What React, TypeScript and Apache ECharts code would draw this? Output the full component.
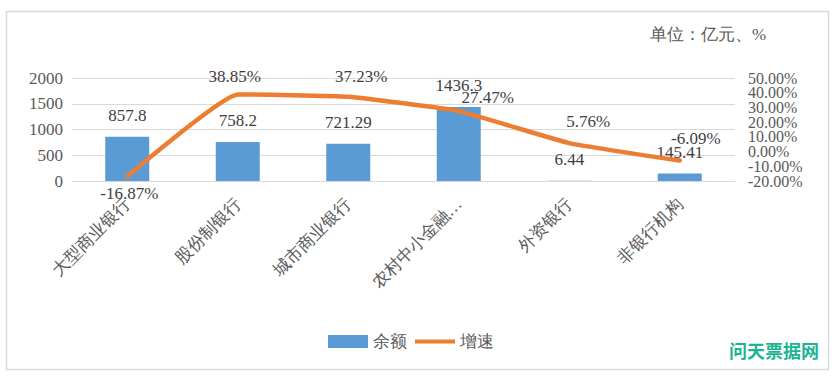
import React, { useEffect, useRef } from "react";
import * as echarts from "echarts";

const categories = ["大型商业银行", "股份制银行", "城市商业银行", "农村中小金融机构", "外资银行", "非银行机构"];
const balance = [857.8, 758.2, 721.29, 1436.3, 6.44, 145.41];
const growth = [-16.87, 38.85, 37.23, 27.47, 5.76, -6.09];
const leftTicks = { min: 0, max: 2000, interval: 500 };
const rightTicks = { min: -20, max: 50, interval: 10 };

// label placement tweaks for the growth series (layout only)
const growthLabelPos = ["bottom", "top", "top", "top", "top", "top"];
const growthLabelOffset = [[2, 4], [-3, -4], [13, -7], [29, 0], [19, -8], [16, -9]];

const SERIF = "Liberation Serif, serif";
const TXT = "#595959";

// right axis drawn twice (same scale), each showing every other tick label,
// so that ECharts does not drop the tightly packed labels
const rightAxis = (parity: number) => ({
  type: "value",
  ...rightTicks,
  position: "right",
  axisLine: { show: false },
  axisTick: { show: false },
  splitLine: { show: false },
  axisLabel: {
    margin: 13,
    fontSize: 16,
    color: TXT,
    fontFamily: SERIF,
    showMinLabel: true,
    showMaxLabel: true,
    formatter: (v: number) =>
      Math.abs(Math.round((v - rightTicks.min) / rightTicks.interval)) % 2 === parity
        ? v.toFixed(2) + "%"
        : "",
  },
});

export default function App() {
  const ref = useRef<HTMLDivElement>(null);
  useEffect(() => {
    document.body.style.margin = "0";
    const chart = echarts.init(ref.current!, null, { renderer: "svg" });
    chart.setOption({
      animation: false,
      backgroundColor: "#ffffff",
      grid: { left: 72, right: 102, top: 78, bottom: 197, containLabel: false },
      legend: {
        left: 323,
        top: 328,
        itemWidth: 40,
        itemHeight: 13,
        itemGap: 8,
        textStyle: { fontSize: 17, color: TXT, fontFamily: SERIF },
        data: [
          { name: "余额", icon: "rect" },
          { name: "增速", icon: "path://M0,0L44,0L44,4.5L0,4.5Z" },
        ],
      },
      xAxis: {
        type: "category",
        data: categories,
        axisLine: { show: true, lineStyle: { color: "#D9D9D9" } },
        axisTick: { show: false },
        axisLabel: {
          rotate: 45,
          fontSize: 17,
          color: TXT,
          fontFamily: SERIF,
          margin: 20,
          interval: 0,
          formatter: (v: string) => (v.length > 6 ? v.slice(0, 6) + "…" : v),
        },
      },
      yAxis: [
        {
          type: "value",
          ...leftTicks,
          axisLine: { show: false },
          axisTick: { show: false },
          splitLine: { lineStyle: { color: "#D9D9D9" } },
          axisLabel: {
            fontSize: 17,
            color: TXT,
            fontFamily: SERIF,
            margin: 9,
            formatter: (v: number) => String(v),
          },
        },
        rightAxis(0),
        rightAxis(1),
      ],
      series: [
        {
          name: "余额",
          type: "bar",
          data: balance,
          barWidth: 44,
          itemStyle: { color: "#5B9BD5" },
          label: {
            show: true,
            position: "top",
            distance: 13,
            fontSize: 17,
            color: "#404040",
            fontFamily: SERIF,
          },
        },
        {
          name: "增速",
          type: "line",
          yAxisIndex: 1,
          data: growth.map((v, i) => ({
            value: v,
            label: { position: growthLabelPos[i], offset: growthLabelOffset[i] },
          })),
          symbol: "circle",
          symbolSize: 0,
          showSymbol: true,
          smooth: 0.12,
          lineStyle: { color: "#ED7D31", width: 4.5, cap: "round" },
          itemStyle: { color: "#ED7D31" },
          label: {
            show: true,
            distance: 5,
            fontSize: 17,
            color: "#404040",
            fontFamily: SERIF,
            formatter: (p: any) => p.value.toFixed(2) + "%",
          },
        },
      ],
      graphic: [
        {
          type: "rect",
          shape: { x: 6.5, y: 11.5, width: 822, height: 358 },
          style: { fill: "none", stroke: "#D9D9D9", lineWidth: 1.5 },
          silent: true,
        },
        {
          type: "text",
          x: 650,
          y: 26,
          style: { text: "单位：亿元、%", fontSize: 17, fill: TXT, fontFamily: SERIF },
        },
        {
          type: "text",
          x: 729,
          y: 341,
          style: {
            text: "问天票据网",
            fontSize: 18,
            fontWeight: "bold",
            fill: "#1BB594",
            fontFamily: "Noto Sans CJK SC, sans-serif",
          },
        },
      ],
    });
    return () => chart.dispose();
  }, []);
  return <div ref={ref} style={{ width: 837, height: 378 }} />;
}
